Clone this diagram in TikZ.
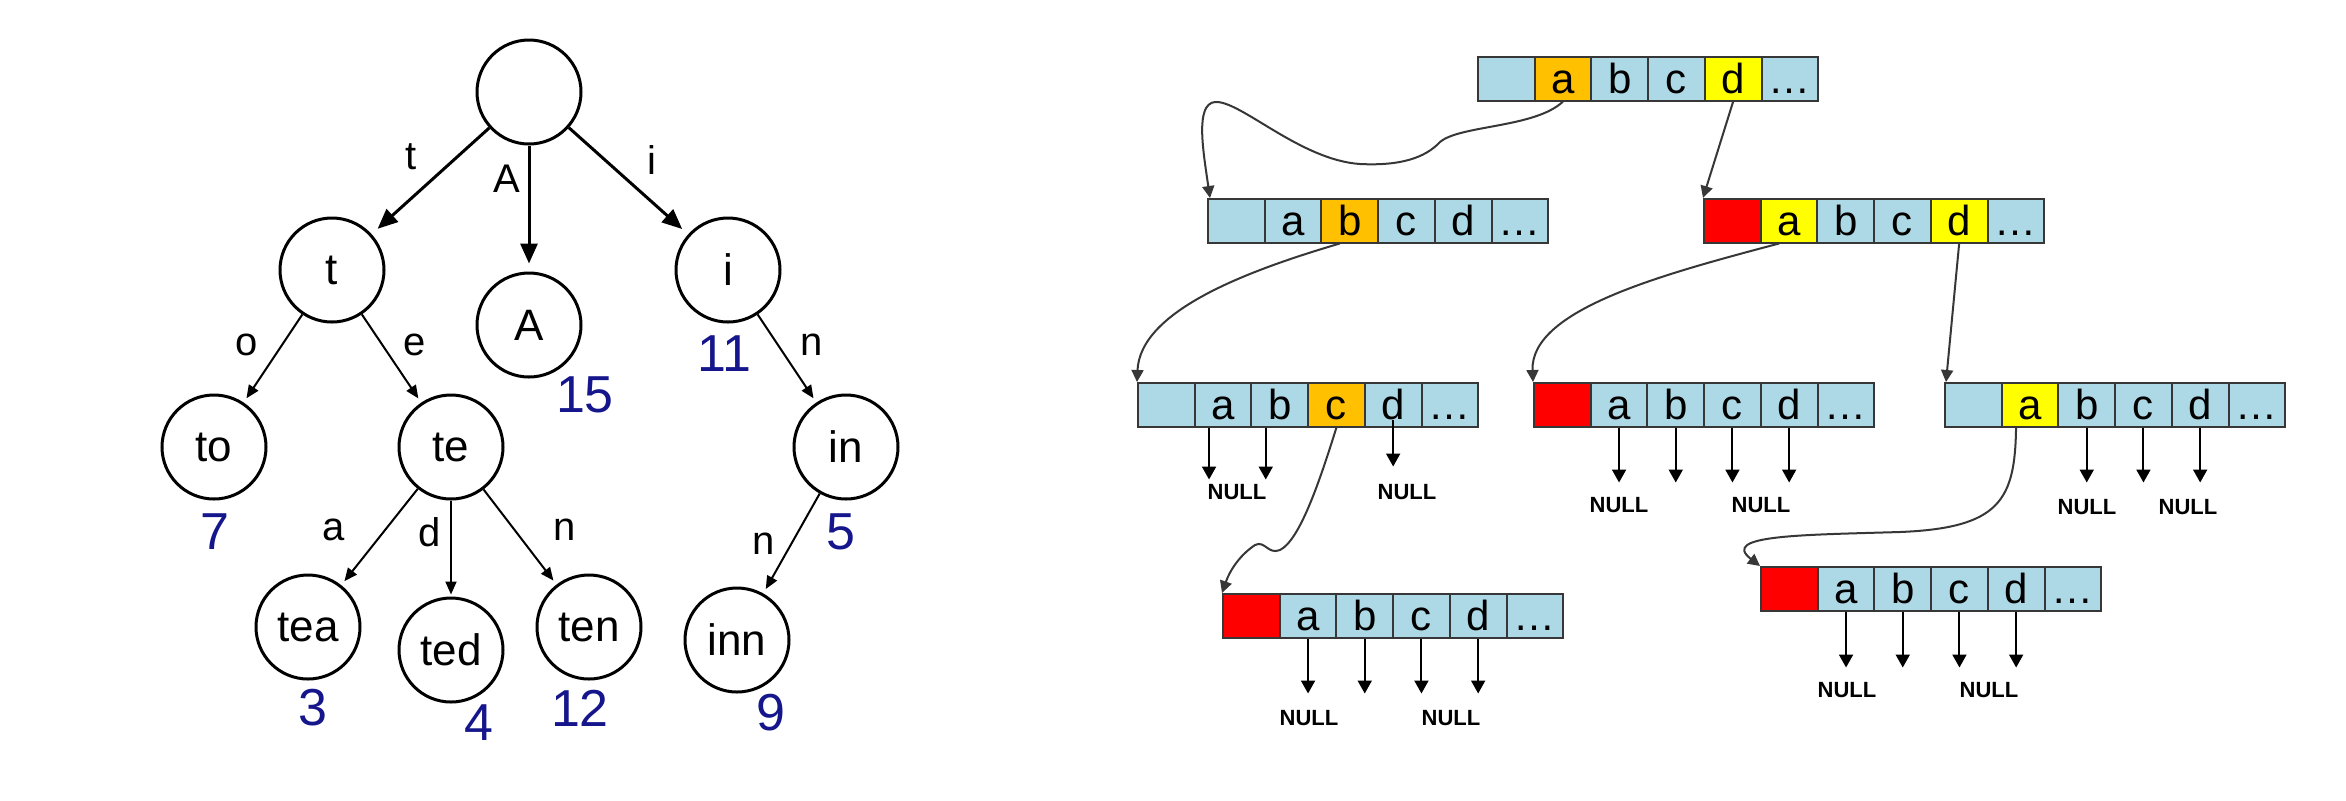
\documentclass[tikz,border=0pt]{standalone}
\usepackage{fontspec}
\setmainfont{Liberation Sans}
\usetikzlibrary{arrows.meta}
\definecolor{lb}{RGB}{173,216,230}
\definecolor{org}{RGB}{255,192,0}
\definecolor{yel}{RGB}{255,255,0}
\definecolor{rd}{RGB}{255,0,0}
\definecolor{numblue}{RGB}{22,22,140}
\definecolor{edgegray}{RGB}{55,55,55}
\newcommand\cellrow[4]{%
  \foreach \cellcol/\celltxt [count=\k from 0] in {#4}{%
    \node[cell,fill=\cellcol,anchor=north west] (#1-\k) at ({#2+56.7*\k},#3) {\celltxt};
  }}
\begin{document}
\begin{tikzpicture}[x=0.5pt,y=-0.5pt,
  tnode/.style={circle,draw,line width=1.5pt,minimum size=52pt,inner sep=0pt,font=\fontsize{22}{26}\selectfont},
  elab/.style={font=\fontsize{20}{24}\selectfont,inner sep=0pt},
  num/.style={font=\fontsize{26}{30}\selectfont,text=numblue,inner sep=0pt},
  bigarr/.style={line width=1.5pt,-{Triangle[length=10pt,width=8.5pt]},shorten >=4pt},
  smallarr/.style={line width=1pt,-{Triangle[length=6.5pt,width=5.5pt]},shorten >=2.5pt},
  cell/.style={draw=edgegray,line width=1pt,minimum width=28.35pt,minimum height=21.75pt,inner sep=0pt,text height=14.5pt,text depth=0pt,font=\fontsize{21}{25}\selectfont},
  ptr/.style={draw=edgegray,line width=1pt,-{Triangle[length=6pt,width=6pt]}},
  nullarr/.style={draw=black,line width=1pt,-{Triangle[length=6.5pt,width=7pt]}},
  nulllab/.style={font=\bfseries\fontsize{11}{13}\selectfont,inner sep=0pt}
]
\fill[white] (0,0) rectangle (2346,800);
\useasboundingbox (0,0) rectangle (2346,800);

% ---------- trie tree ----------
\node[tnode] (nroot) at (529,92) {};
\node[tnode] (nt) at (332,270) {t};
\node[tnode] (nA) at (529,325) {A};
\node[tnode] (ni) at (728,270) {i};
\node[tnode] (nto) at (214,447) {to};
\node[tnode] (nte) at (451,447) {te};
\node[tnode] (nin) at (846,447) {in};
\node[tnode] (ntea) at (308,627) {tea};
\node[tnode] (nted) at (451,650) {ted};
\node[tnode] (nten) at (589,627) {ten};
\node[tnode] (ninn) at (737,640) {inn};

\draw[bigarr] (nroot) -- (nt);
\draw[bigarr] (nroot) -- (nA);
\draw[bigarr] (nroot) -- (ni);
\draw[smallarr] (nt) -- (nto);
\draw[smallarr] (nt) -- (nte);
\draw[smallarr] (ni) -- (nin);
\draw[smallarr] (nte) -- (ntea);
\draw[smallarr,shorten >=1pt] (nte) -- (nted);
\draw[smallarr] (nte) -- (nten);
\draw[smallarr] (nin) -- (ninn);

\node[elab] (lt) at (411,157) {t};
\node[elab] (lA) at (507,179) {A};
\node[elab] (li) at (652,160) {i};
\node[elab] (lo) at (247,345) {o};
\node[elab] (le) at (415,345) {e};
\node[elab] (ln1) at (812,345) {n};
\node[elab] (la) at (334,530) {a};
\node[elab] (ld) at (430,532) {d};
\node[elab] (ln2) at (565,530) {n};
\node[elab] (ln3) at (764,544) {n};

\node[num] (c7) at (215,532) {7};
\node[num] (c15) at (585,395) {15};
\node[num] (c11) at (724,354) {11};
\node[num] (c5) at (841,532) {5};
\node[num] (c3) at (313,708) {3};
\node[num] (c4) at (479,723) {4};
\node[num] (c12) at (580,708) {12};
\node[num] (c9) at (771,713) {9};

% ---------- array trie ----------
\cellrow{R1}{1477}{56}{lb/{},org/a,lb/b,lb/c,yel/d,lb/\ldots}
\cellrow{R2a}{1207}{198}{lb/{},lb/a,org/b,lb/c,lb/d,lb/\ldots}
\cellrow{R2b}{1703}{198}{rd/{},yel/a,lb/b,lb/c,yel/d,lb/\ldots}
\cellrow{R3a}{1137}{382}{lb/{},lb/a,lb/b,org/c,lb/d,lb/\ldots}
\cellrow{R3b}{1533}{382}{rd/{},lb/a,lb/b,lb/c,lb/d,lb/\ldots}
\cellrow{R3c}{1944}{382}{lb/{},yel/a,lb/b,lb/c,lb/d,lb/\ldots}
\cellrow{R4a}{1222}{593}{rd/{},lb/a,lb/b,lb/c,lb/d,lb/\ldots}
\cellrow{R4b}{1760}{566}{rd/{},lb/a,lb/b,lb/c,lb/d,lb/\ldots}

% pointers between arrays
\draw[ptr] (R1-1.south) .. controls (1535,128) and (1460,125) .. (1440,142)
  .. controls (1425,158) and (1400,166) .. (1360,164)
  .. controls (1300,160) and (1240,100) .. (1215,102)
  .. controls (1195,104) and (1203,150) .. ([xshift=1.5pt]R2a-0.north west);
\draw[ptr] (R1-4.south) -- (R2b-0.north west);
\draw[ptr] ([xshift=-5pt]R2a-2.south) .. controls (1250,270) and (1140,310) .. (R3a-0.north west);
\draw[ptr] ([xshift=-5pt]R2b-1.south) .. controls (1660,275) and (1530,310) .. (R3b-0.north west);
\draw[ptr] (R2b-4.south) -- ([xshift=1pt]R3c-0.north west);
\draw[ptr] (R3a-3.south) .. controls (1320,480) and (1300,540) .. (1280,550)
  .. controls (1268,555) and (1265,540) .. (1255,545)
  .. controls (1240,555) and (1230,570) .. (R4a-0.north west);
\draw[ptr] ([xshift=-7pt]R3c-1.south) .. controls (2015,500) and (2000,528) .. (1900,532)
  .. controls (1800,535) and (1720,535) .. (R4b-0.north west);

% NULL pointers
\draw[nullarr] ([xshift=-7pt]R3a-1.south) -- ++(0,52);
\draw[nullarr] ([xshift=-7pt]R3a-2.south) -- ++(0,52);
\draw[nullarr] ([yshift=4pt]R3a-4.south) -- ++(0,47);
\foreach \k in {1,2,3,4} {\draw[nullarr] (R3b-\k.south) -- ++(0,55);}
\foreach \k in {2,3,4} {\draw[nullarr] (R3c-\k.south) -- ++(0,55);}
\foreach \k in {1,2,3,4} {\draw[nullarr] (R4a-\k.south) -- ++(0,55);}
\foreach \k in {1,2,3,4} {\draw[nullarr] (R4b-\k.south) -- ++(0,56);}

\node[nulllab] (N3a1) at (1237,492) {NULL};
\node[nulllab] (N3a2) at (1407,492) {NULL};
\node[nulllab] (N3b1) at (1619,505) {NULL};
\node[nulllab] (N3b2) at (1761,505) {NULL};
\node[nulllab] (N3c1) at (2087,507) {NULL};
\node[nulllab] (N3c2) at (2188,507) {NULL};
\node[nulllab] (N4a1) at (1309,718) {NULL};
\node[nulllab] (N4a2) at (1451,718) {NULL};
\node[nulllab] (N4b1) at (1847,690) {NULL};
\node[nulllab] (N4b2) at (1989,690) {NULL};
\end{tikzpicture}
\end{document}
